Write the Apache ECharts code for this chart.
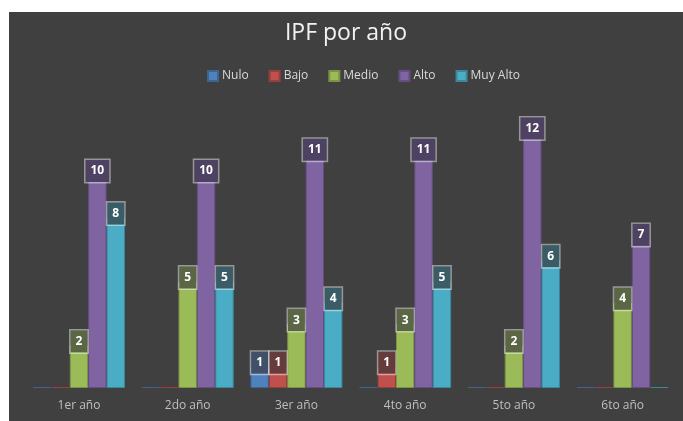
<!DOCTYPE html>
<html>
<head>
<meta charset="utf-8">
<script src="https://cdn.jsdelivr.net/npm/echarts@6/dist/echarts.min.js"></script>
<style>
  html, body { margin: 0; padding: 0; background: #fff; }
  #chart { position: absolute; left: 9px; top: 12px; width: 674px; height: 409px; }
</style>
</head>
<body>
<div id="chart"></div>
<script>
const years = ['1er año', '2do año', '3er año', '4to año', '5to año', '6to año'];
const seriesNames = ['Nulo', 'Bajo', 'Medio', 'Alto', 'Muy Alto'];
const nulo = [0, 0, 1, 0, 0, 0];
const bajo = [0, 0, 1, 1, 0, 0];
const medio = [2, 5, 3, 3, 2, 4];
const alto = [10, 10, 11, 11, 12, 7];
const muyAlto = [8, 5, 4, 5, 6, 0];

const values = [nulo, bajo, medio, alto, muyAlto];
const colors = ['#4f81bd', '#c0504d', '#9bbb59', '#8064a2', '#4bacc6'];
const borders = ['#3d6594', '#963f3d', '#7a9446', '#654f80', '#3b889c'];
const labelBg = ['#3f5068', '#653c3b', '#5a6644', '#4e4262', '#3a5c66'];

const chart = echarts.init(document.getElementById('chart'));

const series = seriesNames.map((name, i) => ({
  name: name,
  type: 'bar',
  barGap: '0%',
  barCategoryGap: '15.4%',
  barMinHeight: 1,
  itemStyle: { color: colors[i], borderColor: borders[i], borderWidth: 1 },
  label: {
    show: true,
    position: 'top',
    distance: 0,
    offset: [0, 7],
    color: '#ffffff',
    fontFamily: 'Open Sans',
    fontWeight: 'bold',
    fontSize: 12,
    lineHeight: 12,
    padding: [5, 5],
    backgroundColor: labelBg[i],
    borderColor: 'rgba(255,255,255,0.45)',
    borderWidth: 1.5
  },
  data: values[i].map(v => ({ value: v, label: { show: v > 0 } }))
}));

chart.setOption({
  backgroundColor: '#404040',
  animation: false,
  color: colors,
  title: {
    text: 'IPF por año',
    left: 'center',
    top: 5,
    textStyle: { color: '#f2f2f2', fontFamily: 'Open Sans', fontWeight: 'normal', fontSize: 23 }
  },
  legend: {
    top: 53,
    left: 193,
    itemWidth: 10,
    itemHeight: 10,
    itemGap: 20,
    icon: 'rect',
    textStyle: { color: '#d9d9d9', fontFamily: 'Open Sans', fontSize: 12, padding: [0, 0, 0, -1] },
    data: seriesNames
  },
  grid: { left: 15.6, right: 6, top: 120.4, bottom: 33 },
  xAxis: {
    type: 'category',
    data: years,
    axisLine: { show: false },
    axisTick: { show: false },
    axisLabel: { color: '#bfbfbf', fontFamily: 'Open Sans', fontSize: 12, margin: 12 }
  },
  yAxis: {
    type: 'value',
    min: 0,
    max: 12,
    show: false,
    splitLine: { show: false }
  },
  series: series
});
</script>
</body>
</html>
